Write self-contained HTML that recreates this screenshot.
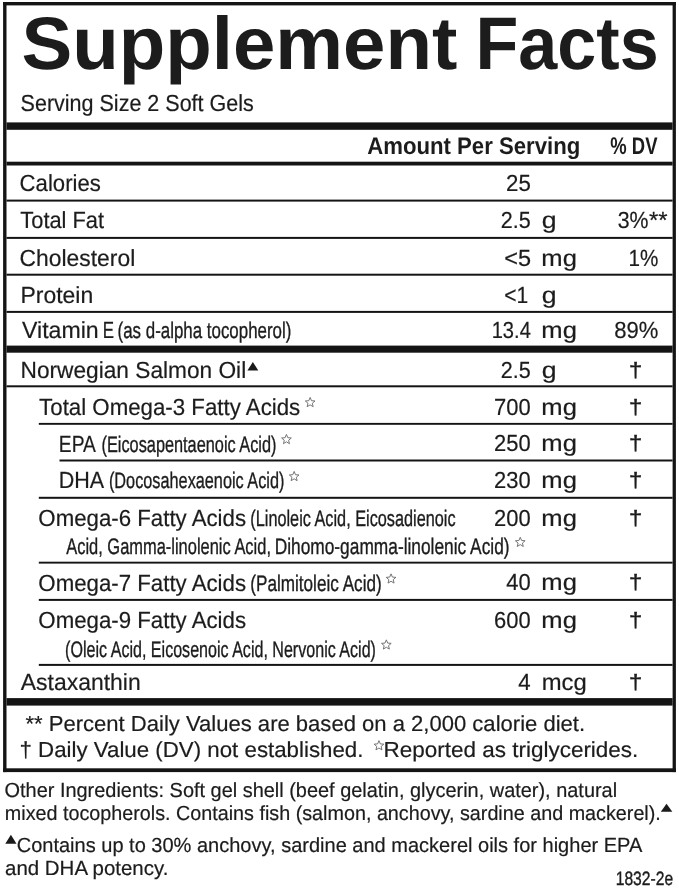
<!DOCTYPE html>
<html lang="en">
<head>
<meta charset="utf-8">
<title>Supplement Facts</title>
<style>
html,body{margin:0;padding:0;background:#fff}
html{width:679px;height:888px;overflow:hidden}
body{width:679px;height:888px;position:relative;overflow:hidden;
font-family:"Liberation Sans", sans-serif;color:#1c1c1c;will-change:transform;filter:grayscale(1)}
#label{position:absolute;left:0;top:0;width:679px;height:888px;overflow:hidden;contain:strict}
.t{position:absolute;white-space:pre;line-height:1;transform-origin:0 0;display:block;text-rendering:geometricPrecision}
.r{position:absolute;background:#141414}
svg{position:absolute;overflow:visible}
</style>
</head>
<body>
<div id="label">
<span class="t" style="left:0;top:7px;font-size:74.5px;transform:translateX(21.50px) scaleX(1.0221);font-weight:bold">Supplement</span>
<span class="t" style="left:0;top:7px;font-size:74.5px;transform:translateX(475.49px) scaleX(0.9410);font-weight:bold">Facts</span>
<span class="t" style="left:0;top:92px;font-size:23.3px;transform:translateX(20.58px) scaleX(0.9236);-webkit-text-stroke:0.2px #1c1c1c">Serving Size 2 Soft Gels</span>
<span class="t" style="left:0;top:135px;font-size:24px;transform:translateX(367.21px) scaleX(0.9235);font-weight:bold">Amount Per Serving</span>
<span class="t" style="left:0;top:135px;font-size:24px;transform:translateX(610.32px) scaleX(0.7686);font-weight:bold">% DV</span>
<span class="t" style="left:0;top:172px;font-size:23.3px;transform:translateX(19.61px) scaleX(0.9502);-webkit-text-stroke:0.2px #1c1c1c">Calories</span>
<span class="t" style="left:0;top:172px;font-size:23.3px;transform:translateX(506.01px) scaleX(0.9558);-webkit-text-stroke:0.2px #1c1c1c">25</span>
<span class="t" style="left:0;top:209px;font-size:23.3px;transform:translateX(20.33px) scaleX(0.9375);-webkit-text-stroke:0.2px #1c1c1c">Total Fat</span>
<span class="t" style="left:0;top:209px;font-size:23.3px;transform:translateX(500.74px) scaleX(0.9256);-webkit-text-stroke:0.2px #1c1c1c">2.5</span>
<span class="t" style="left:0;top:209px;font-size:23.3px;transform:translateX(541.86px) scaleX(1.1429);-webkit-text-stroke:0.2px #1c1c1c">g</span>
<span class="t" style="left:0;top:209px;font-size:23.3px;transform:translateX(617.68px) scaleX(0.9165);-webkit-text-stroke:0.2px #1c1c1c">3%</span>
<span class="t" style="left:0;top:209px;font-size:23.3px;transform:translateX(648.99px) scaleX(1.0261);-webkit-text-stroke:0.2px #1c1c1c">**</span>
<span class="t" style="left:0;top:247px;font-size:23.3px;transform:translateX(19.57px) scaleX(0.9817);-webkit-text-stroke:0.2px #1c1c1c">Cholesterol</span>
<span class="t" style="left:0;top:247px;font-size:23.3px;transform:translateX(504.14px) scaleX(1.0103);-webkit-text-stroke:0.2px #1c1c1c">&lt;5</span>
<span class="t" style="left:0;top:247px;font-size:23.3px;transform:translateX(541.35px) scaleX(1.0983);-webkit-text-stroke:0.2px #1c1c1c">mg</span>
<span class="t" style="left:0;top:247px;font-size:23.3px;transform:translateX(628.45px) scaleX(0.8871);-webkit-text-stroke:0.2px #1c1c1c">1%</span>
<span class="t" style="left:0;top:284px;font-size:23.3px;transform:translateX(20.43px) scaleX(0.9851);-webkit-text-stroke:0.2px #1c1c1c">Protein</span>
<span class="t" style="left:0;top:284px;font-size:23.3px;transform:translateX(504.27px) scaleX(0.9031);-webkit-text-stroke:0.2px #1c1c1c">&lt;1</span>
<span class="t" style="left:0;top:284px;font-size:23.3px;transform:translateX(541.86px) scaleX(1.1429);-webkit-text-stroke:0.2px #1c1c1c">g</span>
<span class="t" style="left:0;top:319px;font-size:23.3px;transform:translateX(22.05px) scaleX(0.9921);-webkit-text-stroke:0.2px #1c1c1c">Vitamin</span>
<span class="t" style="left:0;top:319px;font-size:23.3px;transform:translateX(102.84px) scaleX(0.7280);-webkit-text-stroke:0.2px #1c1c1c">E</span>
<span class="t" style="left:0;top:320px;font-size:22.4px;transform:translateX(117.57px) scaleX(0.7547);-webkit-text-stroke:0.35px #1c1c1c">(as d-alpha tocopherol)</span>
<span class="t" style="left:0;top:319px;font-size:23.3px;transform:translateX(491.69px) scaleX(0.8628);-webkit-text-stroke:0.2px #1c1c1c">13.4</span>
<span class="t" style="left:0;top:319px;font-size:23.3px;transform:translateX(541.35px) scaleX(1.0983);-webkit-text-stroke:0.2px #1c1c1c">mg</span>
<span class="t" style="left:0;top:319px;font-size:23.3px;transform:translateX(614.15px) scaleX(0.9475);-webkit-text-stroke:0.2px #1c1c1c">89%</span>
<span class="t" style="left:0;top:359px;font-size:23.3px;transform:translateX(20.55px) scaleX(0.9735);-webkit-text-stroke:0.2px #1c1c1c">Norwegian Salmon Oil</span>
<span class="t" style="left:0;top:359px;font-size:23.3px;transform:translateX(500.74px) scaleX(0.9256);-webkit-text-stroke:0.2px #1c1c1c">2.5</span>
<span class="t" style="left:0;top:359px;font-size:23.3px;transform:translateX(541.86px) scaleX(1.1429);-webkit-text-stroke:0.2px #1c1c1c">g</span>
<span class="t" style="left:0;top:361px;font-size:20.7px;transform:translateX(628.82px) scaleX(1.1886);-webkit-text-stroke:0.3px #1c1c1c">†</span>
<span class="t" style="left:0;top:396px;font-size:23.3px;transform:translateX(39.12px) scaleX(0.9557);-webkit-text-stroke:0.2px #1c1c1c">Total Omega-3 Fatty Acids</span>
<span class="t" style="left:0;top:396px;font-size:23.3px;transform:translateX(494.12px) scaleX(0.9415);-webkit-text-stroke:0.2px #1c1c1c">700</span>
<span class="t" style="left:0;top:396px;font-size:23.3px;transform:translateX(541.35px) scaleX(1.0983);-webkit-text-stroke:0.2px #1c1c1c">mg</span>
<span class="t" style="left:0;top:398px;font-size:20.7px;transform:translateX(628.82px) scaleX(1.1886);-webkit-text-stroke:0.3px #1c1c1c">†</span>
<span class="t" style="left:0;top:433px;font-size:23.3px;transform:translateX(58.85px) scaleX(0.8257);-webkit-text-stroke:0.2px #1c1c1c">EPA</span>
<span class="t" style="left:0;top:434px;font-size:22.4px;transform:translateX(101.51px) scaleX(0.7283);-webkit-text-stroke:0.35px #1c1c1c">(Eicosapentaenoic Acid)</span>
<span class="t" style="left:0;top:432px;font-size:23.3px;transform:translateX(494.12px) scaleX(0.9415);-webkit-text-stroke:0.2px #1c1c1c">250</span>
<span class="t" style="left:0;top:432px;font-size:23.3px;transform:translateX(541.35px) scaleX(1.0983);-webkit-text-stroke:0.2px #1c1c1c">mg</span>
<span class="t" style="left:0;top:434px;font-size:20.7px;transform:translateX(628.82px) scaleX(1.1886);-webkit-text-stroke:0.3px #1c1c1c">†</span>
<span class="t" style="left:0;top:469px;font-size:23.3px;transform:translateX(58.65px) scaleX(0.9234);-webkit-text-stroke:0.2px #1c1c1c">DHA</span>
<span class="t" style="left:0;top:470px;font-size:22.4px;transform:translateX(108.91px) scaleX(0.7270);-webkit-text-stroke:0.35px #1c1c1c">(Docosahexaenoic Acid)</span>
<span class="t" style="left:0;top:469px;font-size:23.3px;transform:translateX(494.12px) scaleX(0.9415);-webkit-text-stroke:0.2px #1c1c1c">230</span>
<span class="t" style="left:0;top:469px;font-size:23.3px;transform:translateX(541.35px) scaleX(1.0983);-webkit-text-stroke:0.2px #1c1c1c">mg</span>
<span class="t" style="left:0;top:471px;font-size:20.7px;transform:translateX(628.82px) scaleX(1.1886);-webkit-text-stroke:0.3px #1c1c1c">†</span>
<span class="t" style="left:0;top:507px;font-size:23.3px;transform:translateX(38.35px) scaleX(0.9548);-webkit-text-stroke:0.2px #1c1c1c">Omega-6 Fatty Acids</span>
<span class="t" style="left:0;top:508px;font-size:22.4px;transform:translateX(250.31px) scaleX(0.7266);-webkit-text-stroke:0.35px #1c1c1c">(Linoleic Acid, Eicosadienoic</span>
<span class="t" style="left:0;top:507px;font-size:23.3px;transform:translateX(494.12px) scaleX(0.9415);-webkit-text-stroke:0.2px #1c1c1c">200</span>
<span class="t" style="left:0;top:507px;font-size:23.3px;transform:translateX(541.35px) scaleX(1.0983);-webkit-text-stroke:0.2px #1c1c1c">mg</span>
<span class="t" style="left:0;top:509px;font-size:20.7px;transform:translateX(628.82px) scaleX(1.1886);-webkit-text-stroke:0.3px #1c1c1c">†</span>
<span class="t" style="left:0;top:536px;font-size:22.4px;transform:translateX(66.20px) scaleX(0.7346);-webkit-text-stroke:0.35px #1c1c1c">Acid, Gamma-linolenic Acid,</span>
<span class="t" style="left:0;top:536px;font-size:22.4px;transform:translateX(274.65px) scaleX(0.7737);-webkit-text-stroke:0.35px #1c1c1c">Dihomo-gamma-linolenic Acid)</span>
<span class="t" style="left:0;top:572px;font-size:23.3px;transform:translateX(38.35px) scaleX(0.9548);-webkit-text-stroke:0.2px #1c1c1c">Omega-7 Fatty Acids</span>
<span class="t" style="left:0;top:573px;font-size:22.4px;transform:translateX(250.25px) scaleX(0.7656);-webkit-text-stroke:0.35px #1c1c1c">(Palmitoleic Acid)</span>
<span class="t" style="left:0;top:571px;font-size:23.3px;transform:translateX(506.33px) scaleX(0.9429);-webkit-text-stroke:0.2px #1c1c1c">40</span>
<span class="t" style="left:0;top:571px;font-size:23.3px;transform:translateX(541.35px) scaleX(1.0983);-webkit-text-stroke:0.2px #1c1c1c">mg</span>
<span class="t" style="left:0;top:573px;font-size:20.7px;transform:translateX(628.82px) scaleX(1.1886);-webkit-text-stroke:0.3px #1c1c1c">†</span>
<span class="t" style="left:0;top:609px;font-size:23.3px;transform:translateX(38.35px) scaleX(0.9548);-webkit-text-stroke:0.2px #1c1c1c">Omega-9 Fatty Acids</span>
<span class="t" style="left:0;top:609px;font-size:23.3px;transform:translateX(494.12px) scaleX(0.9415);-webkit-text-stroke:0.2px #1c1c1c">600</span>
<span class="t" style="left:0;top:609px;font-size:23.3px;transform:translateX(541.35px) scaleX(1.0983);-webkit-text-stroke:0.2px #1c1c1c">mg</span>
<span class="t" style="left:0;top:611px;font-size:20.7px;transform:translateX(628.82px) scaleX(1.1886);-webkit-text-stroke:0.3px #1c1c1c">†</span>
<span class="t" style="left:0;top:639px;font-size:22.4px;transform:translateX(65.12px) scaleX(0.7177);-webkit-text-stroke:0.35px #1c1c1c">(Oleic Acid, Eicosenoic Acid, Nervonic Acid)</span>
<span class="t" style="left:0;top:671px;font-size:23.3px;transform:translateX(20.80px) scaleX(0.9846);-webkit-text-stroke:0.2px #1c1c1c">Astaxanthin</span>
<span class="t" style="left:0;top:671px;font-size:23.3px;transform:translateX(518.32px) scaleX(0.9532);-webkit-text-stroke:0.2px #1c1c1c">4</span>
<span class="t" style="left:0;top:671px;font-size:23.3px;transform:translateX(541.77px) scaleX(1.0220);-webkit-text-stroke:0.2px #1c1c1c">mcg</span>
<span class="t" style="left:0;top:673px;font-size:20.7px;transform:translateX(628.82px) scaleX(1.1886);-webkit-text-stroke:0.3px #1c1c1c">†</span>
<span class="t" style="left:0;top:713px;font-size:21.8px;transform:translateX(25.49px) scaleX(1.0113);-webkit-text-stroke:0.2px #1c1c1c">** Percent Daily Values are based on a 2,000 calorie diet.</span>
<span class="t" style="left:0;top:739px;font-size:21.8px;transform:translateX(19.47px) scaleX(1.0225);-webkit-text-stroke:0.2px #1c1c1c">† Daily Value (DV) not established.</span>
<span class="t" style="left:0;top:739px;font-size:21.8px;transform:translateX(383.50px) scaleX(1.0312);-webkit-text-stroke:0.2px #1c1c1c">Reported as triglycerides.</span>
<span class="t" style="left:0;top:781px;font-size:20.4px;transform:translateX(4.52px) scaleX(0.9774);-webkit-text-stroke:0.2px #1c1c1c">Other Ingredients: Soft gel shell (beef gelatin, glycerin, water), natural</span>
<span class="t" style="left:0;top:804px;font-size:20.4px;transform:translateX(4.79px) scaleX(0.9685);-webkit-text-stroke:0.2px #1c1c1c">mixed tocopherols. Contains fish (salmon, anchovy, sardine and mackerel).</span>
<span class="t" style="left:0;top:836px;font-size:20.4px;transform:translateX(16.72px) scaleX(0.9815);-webkit-text-stroke:0.2px #1c1c1c">Contains up to 30% anchovy, sardine and mackerel oils for higher EPA</span>
<span class="t" style="left:0;top:859px;font-size:20.4px;transform:translateX(5.05px) scaleX(1.0028);-webkit-text-stroke:0.2px #1c1c1c">and DHA potency.</span>
<span class="t" style="left:0;top:870px;font-size:19.3px;transform:translateX(615.68px) scaleX(0.8117);-webkit-text-stroke:0.4px #1c1c1c">1832-2e</span>
<svg class="rules" style="left:0;top:0" width="679" height="888" viewBox="0 0 679 888" fill="#141414"><rect x="3.10" y="2.00" width="672.80" height="3.40"/><rect x="3.10" y="2.00" width="3.40" height="770.10"/><rect x="672.60" y="2.00" width="3.30" height="770.10"/><rect x="3.10" y="768.30" width="672.80" height="3.80"/><rect x="6.50" y="122.40" width="666.10" height="7.40"/><rect x="6.50" y="161.70" width="666.10" height="3.80"/><rect x="6.50" y="199.60" width="666.10" height="2.00"/><rect x="6.50" y="236.90" width="666.10" height="2.00"/><rect x="6.50" y="273.70" width="666.10" height="2.00"/><rect x="6.50" y="310.90" width="666.10" height="2.00"/><rect x="6.50" y="345.60" width="666.10" height="7.10"/><rect x="6.50" y="385.30" width="666.10" height="2.00"/><rect x="38.80" y="422.90" width="633.80" height="1.90"/><rect x="59.50" y="459.50" width="613.10" height="2.00"/><rect x="38.80" y="496.80" width="633.80" height="2.00"/><rect x="38.80" y="561.70" width="633.80" height="1.90"/><rect x="38.80" y="598.90" width="633.80" height="2.00"/><rect x="38.80" y="663.90" width="633.80" height="2.00"/><rect x="6.50" y="698.10" width="666.10" height="7.50"/><polygon points="252.85,362.10 258.30,370.50 247.40,370.50" fill="#1a1a1a"/><polygon points="666.55,803.70 672.30,811.70 660.80,811.70" fill="#1a1a1a"/><polygon points="10.90,834.70 16.50,843.80 5.30,843.80" fill="#1a1a1a"/><polygon points="310.15,397.45 311.50,400.69 315.00,400.97 312.33,403.26 313.15,406.68 310.15,404.85 307.15,406.68 307.97,403.26 305.30,400.97 308.80,400.69" fill="none" stroke="#6e6e6e" stroke-width="0.95" stroke-linejoin="miter"/><polygon points="286.45,434.45 287.80,437.69 291.30,437.97 288.63,440.26 289.45,443.68 286.45,441.85 283.45,443.68 284.27,440.26 281.60,437.97 285.10,437.69" fill="none" stroke="#6e6e6e" stroke-width="0.95" stroke-linejoin="miter"/><polygon points="294.15,471.45 295.50,474.69 299.00,474.97 296.33,477.26 297.15,480.68 294.15,478.85 291.15,480.68 291.97,477.26 289.30,474.97 292.80,474.69" fill="none" stroke="#6e6e6e" stroke-width="0.95" stroke-linejoin="miter"/><polygon points="520.25,537.25 521.60,540.49 525.10,540.77 522.43,543.06 523.25,546.48 520.25,544.64 517.25,546.48 518.07,543.06 515.40,540.77 518.90,540.49" fill="none" stroke="#6e6e6e" stroke-width="0.95" stroke-linejoin="miter"/><polygon points="391.05,573.85 392.40,577.09 395.90,577.37 393.23,579.66 394.05,583.08 391.05,581.25 388.05,583.08 388.87,579.66 386.20,577.37 389.70,577.09" fill="none" stroke="#6e6e6e" stroke-width="0.95" stroke-linejoin="miter"/><polygon points="386.35,639.85 387.70,643.09 391.20,643.37 388.53,645.66 389.35,649.08 386.35,647.25 383.35,649.08 384.17,645.66 381.50,643.37 385.00,643.09" fill="none" stroke="#6e6e6e" stroke-width="0.95" stroke-linejoin="miter"/><polygon points="378.95,740.65 380.30,743.89 383.80,744.17 381.13,746.46 381.95,749.88 378.95,748.04 375.95,749.88 376.77,746.46 374.10,744.17 377.60,743.89" fill="none" stroke="#6e6e6e" stroke-width="0.95" stroke-linejoin="miter"/></svg>
</div>
</body>
</html>
